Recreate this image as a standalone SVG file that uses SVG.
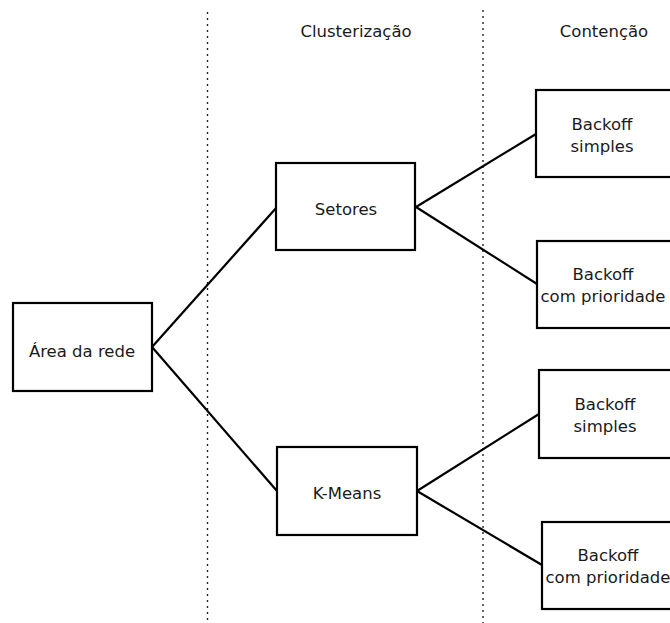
<svg xmlns="http://www.w3.org/2000/svg" width="670" height="623" viewBox="0 0 670 623">
<style>
.box{fill:#fff;stroke:#000;stroke-width:2.2}
.t{font-family:"DejaVu Sans",sans-serif;font-size:16.5px;fill:#1a1a1a;text-anchor:middle}
.c{stroke:#000;stroke-width:2.2;fill:none}
.d{stroke:#222;stroke-width:1.4;stroke-dasharray:2 4;fill:none}
</style>
<rect width="670" height="623" fill="#fff"/>
<g id="dividers">
<line class="d" x1="207.5" y1="12" x2="207.5" y2="623"/>
<line class="d" x1="483" y1="10" x2="483" y2="623"/>
</g>
<text class="t" x="356" y="37">Clusterização</text>
<text class="t" x="604" y="37">Contenção</text>
<g id="connectors">
<line class="c" x1="152" y1="347" x2="277" y2="207"/>
<line class="c" x1="152" y1="347" x2="277" y2="491"/>
<line class="c" x1="416" y1="207" x2="536" y2="134"/>
<line class="c" x1="416" y1="207" x2="537" y2="284"/>
<line class="c" x1="417" y1="491" x2="539" y2="414"/>
<line class="c" x1="417" y1="491" x2="542" y2="565"/>
</g>
<g id="area"><rect class="box" x="13" y="303" width="139" height="88"/><text class="t" x="82" y="357">Área da rede</text></g>
<g id="setores"><rect class="box" x="276" y="163" width="139" height="87"/><text class="t" x="346" y="215">Setores</text></g>
<g id="kmeans"><rect class="box" x="277" y="447" width="140" height="88"/><text class="t" x="347" y="499">K-Means</text></g>
<g id="b1"><rect class="box" x="536" y="90" width="140" height="87"/><text class="t" x="602" y="130">Backoff</text><text class="t" x="602" y="152">simples</text></g>
<g id="b2"><rect class="box" x="537" y="241" width="140" height="87"/><text class="t" x="603" y="280">Backoff</text><text class="t" x="603" y="302">com prioridade</text></g>
<g id="b3"><rect class="box" x="539" y="370" width="140" height="88"/><text class="t" x="605" y="410">Backoff</text><text class="t" x="605" y="432">simples</text></g>
<g id="b4"><rect class="box" x="542" y="522" width="140" height="87"/><text class="t" x="608" y="561">Backoff</text><text class="t" x="608" y="583">com prioridade</text></g>
</svg>
